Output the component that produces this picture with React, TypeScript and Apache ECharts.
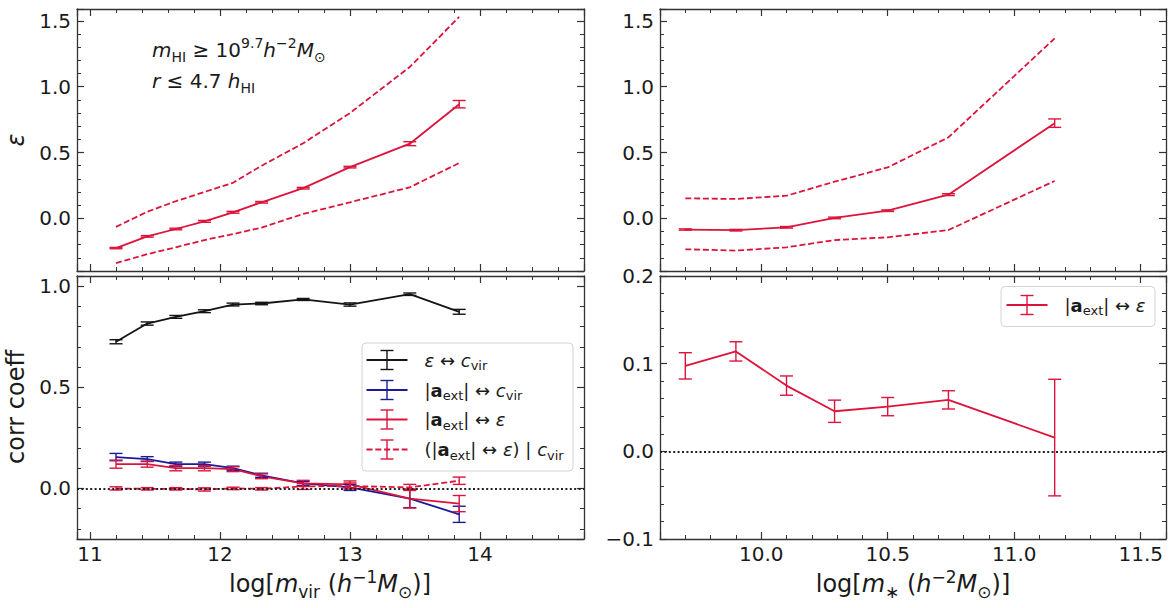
import React, { useEffect, useRef } from 'react';
import * as echarts from 'echarts';

const FONT = 'DejaVu Sans';
const RED = '#dc143c';
const BLUE = '#1a1a96';
const BLACK = '#141414';
const AX = '#333333';
const TXT = '#1a1a1a';

// ---------- data: left panels (x = log m_vir) ----------
const mvirBins = [11.2, 11.44, 11.66, 11.88, 12.1, 12.32, 12.64, 13.0, 13.46, 13.84];
const epsMedVir = [-0.226, -0.137, -0.081, -0.023, 0.046, 0.122, 0.229, 0.389, 0.567, 0.867];
const epsMedVirErr = [0.005, 0.006, 0.006, 0.007, 0.007, 0.006, 0.006, 0.006, 0.015, 0.028];
const epsUpVir = [-0.065, 0.05, 0.13, 0.2, 0.27, 0.4, 0.57, 0.8, 1.15, 1.53];
const epsLoVir = [-0.34, -0.272, -0.22, -0.165, -0.12, -0.07, 0.033, 0.122, 0.236, 0.42];

const ccEpsCvir = [0.725, 0.815, 0.848, 0.876, 0.909, 0.914, 0.934, 0.909, 0.96, 0.873];
const ccEpsCvirErr = [0.01, 0.008, 0.007, 0.007, 0.007, 0.006, 0.005, 0.008, 0.006, 0.012];
const ccAextCvir = [0.155, 0.145, 0.12, 0.12, 0.1, 0.065, 0.025, 0.005, -0.05, -0.128];
const ccAextCvirErr = [0.018, 0.012, 0.01, 0.01, 0.01, 0.01, 0.01, 0.015, 0.045, 0.04];
const ccAextEps = [0.12, 0.12, 0.1, 0.1, 0.095, 0.06, 0.025, 0.02, -0.05, -0.075];
const ccAextEpsErr = [0.02, 0.015, 0.013, 0.013, 0.012, 0.012, 0.015, 0.017, 0.047, 0.04];
const ccAextEpsGivenCvir = [0.0, -0.002, -0.002, -0.005, 0.0, -0.002, 0.01, 0.012, 0.005, 0.038];
const ccAextEpsGivenCvirErr = [0.008, 0.006, 0.006, 0.008, 0.006, 0.006, 0.015, 0.015, 0.015, 0.018];

// ---------- data: right panels (x = log m_*) ----------
const mstarBins = [9.7, 9.9, 10.1, 10.29, 10.5, 10.74, 11.16];
const epsMedStar = [-0.085, -0.09, -0.068, 0.003, 0.058, 0.18, 0.723];
const epsMedStarErr = [0.005, 0.006, 0.006, 0.006, 0.006, 0.007, 0.032];
const epsUpStar = [0.152, 0.147, 0.172, 0.278, 0.387, 0.615, 1.367];
const epsLoStar = [-0.235, -0.245, -0.22, -0.165, -0.144, -0.089, 0.284];
const ccAextEpsStar = [0.0975, 0.114, 0.075, 0.0457, 0.051, 0.0587, 0.0157];
const ccAextEpsStarErr = [0.015, 0.011, 0.011, 0.0127, 0.0104, 0.0104, 0.0665];

// ---------- axis ranges ----------
const xLeftRange = [10.9, 14.8];
const xRightRange = [9.6, 11.6];
const yTopRange = [-0.4, 1.59];
const yBLRange = [-0.25, 1.05];
const yBRRange = [-0.1, 0.2];

const fmt1 = (v: number) => v.toFixed(1).replace('-', '\u2212');
const fmtInt = (v: number) => String(Math.round(v));

const LINE_W = 1.8;
const DASH = [6, 2.8];

function pairs(xs: number[], ys: number[]) {
  return xs.map((x, i) => [x, ys[i]]);
}

function axisPair(kind: 'x' | 'y', gridIndex: number, range: number[], interval: number, showLabels: boolean, fmt: (v: number) => string, edgeLabels: boolean, minorSplit: number) {
  const common: any = {
    type: 'value',
    gridIndex,
    min: range[0],
    max: range[1],
    minInterval: interval,
    maxInterval: interval,
    splitNumber: 5,
    splitLine: { show: false },
    axisLine: { show: true, onZero: false, lineStyle: { color: AX, width: 1.3 } },
    axisTick: { show: true, inside: true, length: 7, lineStyle: { color: AX, width: 1.2 } },
    minorTick: { show: true, splitNumber: minorSplit, length: 4, lineStyle: { color: AX, width: 1 } },
    minorSplitLine: { show: false },
  };
  const labelCfg = {
    show: showLabels,
    showMinLabel: edgeLabels,
    showMaxLabel: edgeLabels,
    margin: kind === 'x' ? 5 : 6,
    fontFamily: FONT,
    fontSize: 20,
    color: TXT,
    formatter: fmt,
  };
  return [
    { ...common, position: kind === 'x' ? 'bottom' : 'left', axisLabel: labelCfg },
    { ...common, position: kind === 'x' ? 'top' : 'right', axisLabel: { show: false } },
  ];
}

function lineSeries(panel: number, xs: number[], ys: number[], color: string, dashed: boolean, extra: any = {}) {
  return {
    type: 'line',
    xAxisIndex: panel * 2,
    yAxisIndex: panel * 2,
    data: pairs(xs, ys),
    showSymbol: false,
    symbol: 'none',
    silent: true,
    z: 2,
    lineStyle: { color, width: LINE_W, type: dashed ? DASH : 'solid' },
    ...extra,
  };
}

function errSeries(panel: number, xs: number[], ys: number[], es: number[], color: string) {
  return {
    type: 'custom',
    xAxisIndex: panel * 2,
    yAxisIndex: panel * 2,
    silent: true,
    z: 3,
    encode: { x: 0, y: 1 },
    data: xs.map((x, i) => [x, ys[i], es[i]]),
    renderItem: (_p: any, api: any) => {
      const x = api.value(0);
      const y = api.value(1);
      const e = api.value(2);
      const top = api.coord([x, y + e]);
      const bot = api.coord([x, y - e]);
      const cap = 6.5;
      const style = { stroke: color, lineWidth: 1.4 };
      return {
        type: 'group',
        children: [
          { type: 'line', shape: { x1: top[0], y1: top[1], x2: bot[0], y2: bot[1] }, style },
          { type: 'line', shape: { x1: top[0] - cap, y1: top[1], x2: top[0] + cap, y2: top[1] }, style },
          { type: 'line', shape: { x1: bot[0] - cap, y1: bot[1], x2: bot[0] + cap, y2: bot[1] }, style },
        ],
      };
    },
  };
}

const zeroLine = {
  silent: true,
  symbol: 'none',
  label: { show: false },
  lineStyle: { color: '#222', width: 2, type: [2, 2.4] },
  data: [{ yAxis: 0 }],
};

function richStyles(size: number, subSize: number, lh: number) {
  const b = { fontFamily: FONT, fill: TXT, lineHeight: lh, verticalAlign: 'middle' };
  return {
    n: { ...b, fontSize: size },
    it: { ...b, fontSize: size, fontStyle: 'italic' },
    b: { ...b, fontSize: size, fontWeight: 'bold' },
    sub: { fontFamily: FONT, fill: TXT, fontSize: subSize, lineHeight: subSize, verticalAlign: 'bottom' },
    sup: { fontFamily: FONT, fill: TXT, fontSize: subSize, lineHeight: subSize, verticalAlign: 'top' },
  };
}

function mathText(x: number, y: number, text: string, size: number, subSize: number, lh: number, align: string, rotation = 0) {
  return {
    type: 'text',
    x,
    y,
    rotation,
    z: 100,
    silent: true,
    style: {
      text,
      rich: richStyles(size, subSize, lh),
      fontFamily: FONT,
      fontSize: size,
      fill: TXT,
      align,
      verticalAlign: 'middle',
    },
  };
}

function legendEntry(x0: number, y: number, color: string, dashed: boolean, text: string) {
  const lineStyle = { stroke: color, lineWidth: 2, lineDash: dashed ? DASH : null };
  const eb = { stroke: color, lineWidth: 1.4 };
  const cx = x0 + 20.5;
  return [
    { type: 'line', z: 101, silent: true, shape: { x1: x0, y1: y, x2: x0 + 41, y2: y }, style: lineStyle },
    { type: 'line', z: 101, silent: true, shape: { x1: cx, y1: y - 9.5, x2: cx, y2: y + 9.5 }, style: eb },
    { type: 'line', z: 101, silent: true, shape: { x1: cx - 6.5, y1: y - 9.5, x2: cx + 6.5, y2: y - 9.5 }, style: eb },
    { type: 'line', z: 101, silent: true, shape: { x1: cx - 6.5, y1: y + 9.5, x2: cx + 6.5, y2: y + 9.5 }, style: eb },
    mathText(x0 + 58, y, text, 18, 13, 24, 'left'),
  ];
}

export default function App() {
  const ref = useRef<HTMLDivElement>(null);
  useEffect(() => {
    if (!ref.current) return;
    const chart = echarts.init(ref.current, undefined, { renderer: 'svg' });

    const grids = [
      { left: 77, top: 9, width: 507, height: 262 },
      { left: 660, top: 9, width: 506, height: 262 },
      { left: 77, top: 276, width: 507, height: 263 },
      { left: 660, top: 276, width: 506, height: 263 },
    ];

    const xAxis = [
      ...axisPair('x', 0, xLeftRange, 1, false, fmtInt, false, 5),
      ...axisPair('x', 1, xRightRange, 0.5, false, fmt1, false, 5),
      ...axisPair('x', 2, xLeftRange, 1, true, fmtInt, false, 5),
      ...axisPair('x', 3, xRightRange, 0.5, true, fmt1, false, 5),
    ];
    const yAxis = [
      ...axisPair('y', 0, yTopRange, 0.5, true, fmt1, false, 5),
      ...axisPair('y', 1, yTopRange, 0.5, true, fmt1, false, 5),
      ...axisPair('y', 2, yBLRange, 0.5, true, fmt1, false, 5),
      ...axisPair('y', 3, yBRRange, 0.1, true, fmt1, true, 5),
    ];

    const series: any[] = [
      // top-left
      lineSeries(0, mvirBins, epsUpVir, RED, true),
      lineSeries(0, mvirBins, epsLoVir, RED, true),
      lineSeries(0, mvirBins, epsMedVir, RED, false),
      errSeries(0, mvirBins, epsMedVir, epsMedVirErr, RED),
      // top-right
      lineSeries(1, mstarBins, epsUpStar, RED, true),
      lineSeries(1, mstarBins, epsLoStar, RED, true),
      lineSeries(1, mstarBins, epsMedStar, RED, false),
      errSeries(1, mstarBins, epsMedStar, epsMedStarErr, RED),
      // bottom-left
      lineSeries(2, mvirBins, ccEpsCvir, BLACK, false, { markLine: zeroLine }),
      errSeries(2, mvirBins, ccEpsCvir, ccEpsCvirErr, BLACK),
      lineSeries(2, mvirBins, ccAextCvir, BLUE, false),
      errSeries(2, mvirBins, ccAextCvir, ccAextCvirErr, BLUE),
      lineSeries(2, mvirBins, ccAextEps, RED, false),
      errSeries(2, mvirBins, ccAextEps, ccAextEpsErr, RED),
      lineSeries(2, mvirBins, ccAextEpsGivenCvir, RED, true),
      errSeries(2, mvirBins, ccAextEpsGivenCvir, ccAextEpsGivenCvirErr, RED),
      // bottom-right
      lineSeries(3, mstarBins, ccAextEpsStar, RED, false, { markLine: zeroLine }),
      errSeries(3, mstarBins, ccAextEpsStar, ccAextEpsStarErr, RED),
    ];

    const graphic: any[] = [
      // axis titles
      mathText(16, 140, '{it|ε}', 24, 17, 30, 'center', Math.PI / 2),
      mathText(16, 407, '{n|corr coeff}', 24, 17, 30, 'center', Math.PI / 2),
      mathText(330, 584, '{n|log[}{it|m}{sub|vir}{n| (}{it|h}{sup|−1}{it|M}{sub|⊙}{n|)]}', 24, 17, 32, 'center'),
      mathText(913, 584, '{n|log[}{it|m}{sub|∗}{n| (}{it|h}{sup|−2}{it|M}{sub|⊙}{n|)]}', 24, 17, 32, 'center'),
      // annotation
      mathText(152, 50, '{it|m}{sub|HI}{n| ≥ 10}{sup|9.7}{it|h}{sup|−2}{it|M}{sub|⊙}', 20, 14, 28, 'left'),
      mathText(152, 81, '{it|r}{n| ≤ 4.7 }{it|h}{sub|HI}', 20, 14, 28, 'left'),
      // legend bottom-left
      {
        type: 'rect', z: 99, silent: true,
        shape: { x: 362, y: 343, width: 211, height: 128, r: 4 },
        style: { fill: 'rgba(255,255,255,0.85)', stroke: '#d4d4d4', lineWidth: 1 },
      },
      ...legendEntry(366.5, 360, BLACK, false, '{it|ε}{n| ↔ }{it|c}{sub|vir}'),
      ...legendEntry(366.5, 390, BLUE, false, '{n||}{b|a}{sub|ext}{n|| ↔ }{it|c}{sub|vir}'),
      ...legendEntry(366.5, 419.5, RED, false, '{n||}{b|a}{sub|ext}{n|| ↔ }{it|ε}'),
      ...legendEntry(366.5, 449.5, RED, true, '{n|(|}{b|a}{sub|ext}{n|| ↔ }{it|ε}{n|) | }{it|c}{sub|vir}'),
      // legend bottom-right
      {
        type: 'rect', z: 99, silent: true,
        shape: { x: 1001, y: 286.5, width: 154, height: 40, r: 4 },
        style: { fill: 'rgba(255,255,255,0.85)', stroke: '#d4d4d4', lineWidth: 1 },
      },
      ...legendEntry(1006.5, 305, RED, false, '{n||}{b|a}{sub|ext}{n|| ↔ }{it|ε}'),
    ];

    chart.setOption({
      animation: false,
      backgroundColor: '#ffffff',
      grid: grids,
      xAxis,
      yAxis,
      series,
      graphic,
    });
    return () => chart.dispose();
  }, []);

  return (
    <div
      ref={ref}
      style={{ position: 'absolute', left: 0, top: 0, width: 1172, height: 608, background: '#fff' }}
    />
  );
}
